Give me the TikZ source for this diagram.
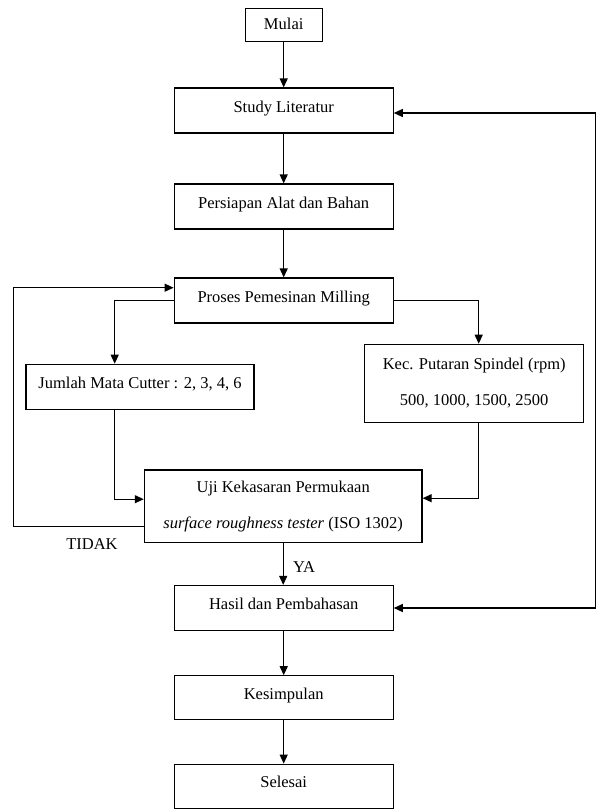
\documentclass[tikz,border=0pt]{standalone}
\usepackage{fontspec}
\setmainfont{Liberation Serif}
\usetikzlibrary{arrows.meta}
\tikzset{
  kotak/.style={draw, line width=1.2pt, inner sep=0pt, minimum width=219pt, minimum height=45pt, text depth=8pt, font=\fontsize{16.5}{36}\selectfont},
  kotakdua/.style={draw, line width=1.2pt, inner sep=0pt, align=center, font=\fontsize{16.5}{36}\selectfont},
  panah/.style={line width=1.2pt, -{Triangle[length=9pt,width=8pt]}},
  label teks/.style={inner sep=0pt, font=\fontsize{16.5}{19}\selectfont},
}
\begin{document}
\begin{tikzpicture}[x=1pt,y=-1pt]
  \useasboundingbox (0,0) rectangle (597,809);

  %kolom tengah
  \node[kotak, minimum width=77pt, minimum height=33.4pt, text depth=3pt] (mulai) at (283.7,25) {Mulai};
  \node[kotak] (study) at (283.7,110.5) {Study Literatur};
  \node[kotak] (persiapan) at (283.7,206.5) {Persiapan Alat dan Bahan};
  \node[kotak] (proses) at (283.7,300.5) {Proses Pemesinan Milling};

  %parameter
  \node[kotak, minimum width=228pt] (jumlah) at (140,386.8) {Jumlah Mata Cutter : 2, 3, 4, 6};
  \node[kotakdua, minimum width=219pt, minimum height=78pt] (kec) at (474.2,383.3) {Kec. Putaran Spindel (rpm)\\500, 1000, 1500, 2500};

  %pengujian
  \node[kotakdua, minimum width=277.7pt, minimum height=72.3pt] (uji) at (283.2,506.2) {Uji Kekasaran Permukaan\\\textit{surface roughness tester} (ISO 1302)};

  \node[kotak] (hasil) at (283.7,608) {Hasil dan Pembahasan};
  \node[kotak, minimum height=44pt] (kesimpulan) at (283.7,697.8) {Kesimpulan};
  \node[kotak, minimum height=44pt] (selesai) at (283.7,786.2) {Selesai};

  %keterangan
  \node[label teks] (tidak) at (92,544) {TIDAK};
  \node[label teks] (ya) at (304,567) {YA};

  %alur utama
  \draw[panah] (mulai) -- (study);
  \draw[panah] (study) -- (persiapan);
  \draw[panah] (persiapan) -- (proses);
  \draw[panah] (proses.west) -| ([xshift=-25.3pt]jumlah.north);
  \draw[panah] (proses.east) -| ([xshift=4.5pt]kec.north);
  \draw[panah] ([xshift=-25.3pt]jumlah.south) |- ([yshift=7pt]uji.west);
  \draw[panah] ([xshift=4.5pt]kec.south) |- ([yshift=8pt]uji.east);
  \draw[panah] (uji.south) -- (uji.south |- hasil.north);
  \draw[panah] (hasil) -- (kesimpulan);
  \draw[panah] (kesimpulan) -- (selesai);

  %umpan balik
  \draw[panah] ([yshift=-20pt]uji.west) -- ++(-130,0) |- ([yshift=12.8pt]proses.west);
  \draw[panah, {Triangle[length=9pt,width=8pt]}-{Triangle[length=9pt,width=8pt]}] ([yshift=-2.5pt]study.east) -- ++(201.6,0) |- (hasil.east);
\end{tikzpicture}
\end{document}
